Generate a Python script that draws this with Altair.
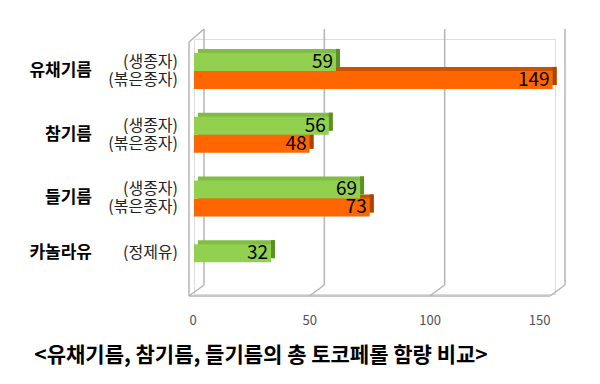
import altair as alt
import pandas as pd

categories = ["유채기름", "참기름", "들기름", "카놀라유"]
raw_labels = ["(생종자)", "(생종자)", "(생종자)", "(정제유)"]
raw_values = [59, 56, 69, 32]
roasted_cats = ["유채기름", "참기름", "들기름"]
roasted_labels = ["(볶은종자)", "(볶은종자)", "(볶은종자)"]
roasted_values = [149, 48, 73]
tick_values = [0, 50, 100, 150]
title_text = "<유채기름, 참기름, 들기름의 총 토코페롤 함량 비교>"

FONT = "Noto Sans CJK KR"
GREEN = "#92D050"
GREEN_TOP = "#80BC46"
GREEN_SIDE = "#5E8E2A"
ORANGE = "#FF6600"
ORANGE_TOP = "#CC5200"
ORANGE_SIDE = "#A84400"
GRID = "#B5B5B5"

green_df = pd.DataFrame({"cat": categories, "sub": raw_labels, "value": raw_values})
orange_df = pd.DataFrame({"cat": roasted_cats, "sub": roasted_labels, "value": roasted_values})
ticks_df = pd.DataFrame({"v": tick_values})
span_df = pd.DataFrame({"a": [tick_values[0]], "b": [tick_values[-1]]})
cat_main = pd.DataFrame({"cat": categories[:3]})
cat_last = pd.DataFrame({"cat": categories[3:]})
title_df = pd.DataFrame({"t": [title_text]})

xscale = alt.Scale(domain=[0, 150], nice=False, zero=True)
yscale = alt.Scale(domain=categories, paddingInner=0, paddingOuter=0)

X = lambda f: alt.X(f, type="quantitative", scale=xscale,
                    axis=alt.Axis(values=tick_values, grid=False, domain=False, ticks=False,
                                  tickSize=0, labelPadding=20, labelOffset=-5,
                                  labelFont=FONT, labelFontSize=13, labelColor="#505050",
                                  title=None))
Y = alt.Y("cat:N", scale=yscale, axis=None, sort=categories)

back = alt.Chart(ticks_df).mark_rule(color=GRID, strokeWidth=1.5, xOffset=10).encode(
    x=X("v"), y=alt.value(-10), y2=alt.value(246))
slant = alt.Chart(ticks_df).mark_rule(color=GRID, strokeWidth=1.5, xOffset=-5, x2Offset=10).encode(
    x=X("v"), x2="v:Q", y=alt.value(257), y2=alt.value(246))
floor = alt.Chart(span_df).mark_rule(color=GRID, strokeWidth=1.5, xOffset=-5, x2Offset=-5).encode(
    x=X("a"), x2="b:Q", y=alt.value(257))
wall = alt.Chart(span_df).mark_rule(color=GRID, strokeWidth=1.5, xOffset=-5).encode(
    x=X("a"), y=alt.value(3), y2=alt.value(257))
wall_top = alt.Chart(span_df).mark_rule(color=GRID, strokeWidth=1.5, xOffset=-5, x2Offset=10).encode(
    x=X("a"), x2="a:Q", y=alt.value(3), y2=alt.value(-10))


def bar3d(df, front, top, side, off):
    top_face = alt.Chart(df).mark_bar(height=18, yOffset=off - 4, xOffset=4, x2Offset=4,
                                      color=top).encode(x=X("value"), y=Y)
    side_face = alt.Chart(df).mark_bar(height=18, yOffset=off - 4, x2Offset=4,
                                       color=side).encode(x=X("value"), x2="value:Q", y=Y)
    front_face = alt.Chart(df).mark_bar(height=18, yOffset=off, color=front).encode(
        x=X("value"), y=Y)
    return [top_face, side_face, front_face]


orange_layers = bar3d(orange_df, ORANGE, ORANGE_TOP, ORANGE_SIDE, 9)
green_layers = bar3d(green_df, GREEN, GREEN_TOP, GREEN_SIDE, -9)

g_val = alt.Chart(green_df).mark_text(align="right", baseline="middle", dx=-3, yOffset=-9,
                                      font=FONT, fontSize=19, color="black").encode(
    x=X("value"), y=Y, text="value:Q")
o_val = alt.Chart(orange_df).mark_text(align="right", baseline="middle", dx=-3, yOffset=9,
                                       font=FONT, fontSize=19, color="black").encode(
    x=X("value"), y=Y, text="value:Q")

g_sub = alt.Chart(green_df).mark_text(align="right", baseline="middle", yOffset=-9,
                                      font=FONT, fontSize=16, color="#222222").encode(
    x=alt.value(-16), y=Y, text="sub:N")
o_sub = alt.Chart(orange_df).mark_text(align="right", baseline="middle", yOffset=9,
                                       font=FONT, fontSize=16, color="#222222").encode(
    x=alt.value(-16), y=Y, text="sub:N")
cat1 = alt.Chart(cat_main).mark_text(align="right", baseline="middle", font=FONT, fontSize=17,
                                     fontWeight="bold", color="black").encode(
    x=alt.value(-102), y=Y, text="cat:N")
cat2 = alt.Chart(cat_last).mark_text(align="right", baseline="middle", yOffset=-9, font=FONT,
                                     fontSize=17, fontWeight="bold", color="black").encode(
    x=alt.value(-102), y=Y, text="cat:N")

title = alt.Chart(title_df).mark_text(align="center", baseline="middle", font=FONT, fontSize=21,
                                      fontWeight="bold", color="black").encode(
    x=alt.value(67), y=alt.value(317), text="t:N")

chart = alt.layer(back, slant, floor, wall, wall_top, *orange_layers, *green_layers,
                  g_val, o_val, g_sub, o_sub, cat1, cat2, title).properties(
    width=361, height=255,
    autosize=alt.AutoSizeParams(type="none"),
    padding={"left": 186, "top": 31, "right": 30, "bottom": 80},
).configure_view(stroke=None).configure(background="white")

chart.save("out.html", embed_options={"renderer": "svg", "actions": False})
